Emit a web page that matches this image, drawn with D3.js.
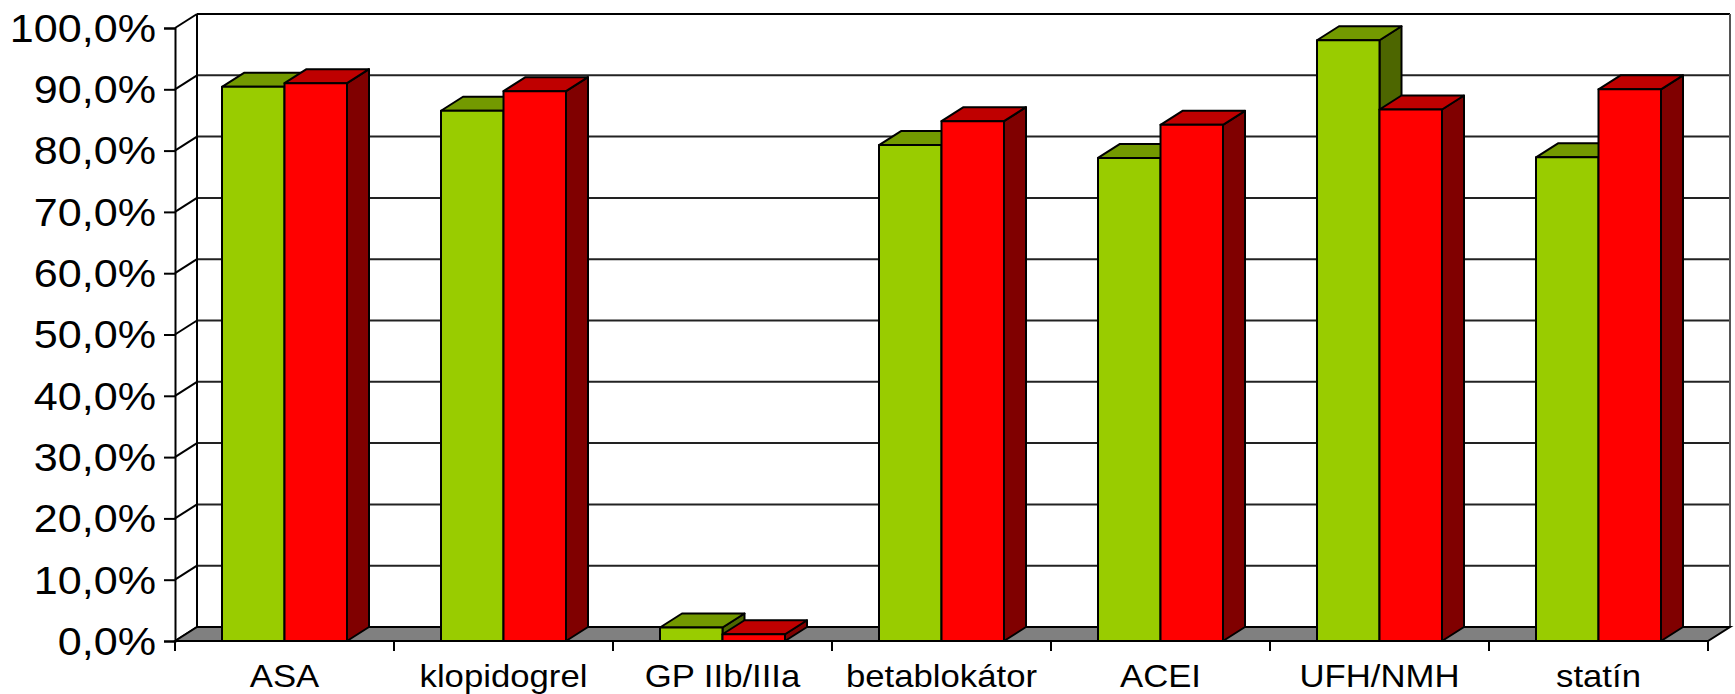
<!DOCTYPE html>
<html>
<head>
<meta charset="utf-8">
<script src="https://cdn.jsdelivr.net/npm/d3@7"></script>
<style>
  html, body { margin: 0; padding: 0; background: #fff; }
  svg { display: block; }
  text { font-family: "Liberation Sans", Arial, sans-serif; fill: #000; }
</style>
</head>
<body>
<svg id="chart" width="1735" height="694"></svg>
<script>
'use strict';

var categories = ['ASA', 'klopidogrel', 'GP IIb/IIIa', 'betablokátor', 'ACEI', 'UFH/NMH', 'statín'];
var greenValues = [90.4, 86.5, 2.2, 80.9, 78.8, 98.0, 78.9];
var redValues = [91.0, 89.7, 1.1, 84.8, 84.2, 86.7, 90.0];
var yTicks = [0, 10, 20, 30, 40, 50, 60, 70, 80, 90, 100];

var greenColors = { front: '#99cc00', top: '#739900', side: '#4d6600' };
var redColors = { front: '#ff0000', top: '#bf0000', side: '#800000' };

var plotLeft = 175, plotRight = 1708, plotTop = 28, plotBottom = 641;
var depthX = 22, depthY = 14;
var barWidth = 62.5;
// the labels in the picture are stretched sideways
var textStretch = 1.12;

var svg = d3.select('#chart');

var x = d3.scaleBand().domain(categories).range([plotLeft, plotRight]);
var y = d3.scaleLinear().domain([0, 100]).range([plotBottom, plotTop]);
var series = d3.scaleBand().domain(['green', 'red']).range([-barWidth, barWidth]);

function poly(points) {
  return points.map(function(p) { return p.join(','); }).join(' ');
}

// walls: gridlines on the back wall, running round the side wall
var walls = svg.append('g');

walls.selectAll('line.grid')
  .data(yTicks.slice(1))
  .enter().append('line')
  .attr('class', 'grid')
  .attr('x1', plotLeft + depthX).attr('x2', plotRight + depthX)
  .attr('y1', function(d) { return y(d) - depthY; })
  .attr('y2', function(d) { return y(d) - depthY; })
  .attr('stroke', function(d) { return d === 100 ? '#000' : '#222'; })
  .attr('stroke-width', 2);

walls.selectAll('line.side')
  .data(yTicks)
  .enter().append('line')
  .attr('class', 'side')
  .attr('x1', plotLeft).attr('x2', plotLeft + depthX)
  .attr('y1', function(d) { return y(d); })
  .attr('y2', function(d) { return y(d) - depthY; })
  .attr('stroke', '#000').attr('stroke-width', 2);

walls.append('line')
  .attr('x1', plotLeft + depthX).attr('x2', plotLeft + depthX)
  .attr('y1', y(100) - depthY).attr('y2', y(0) - depthY)
  .attr('stroke', '#000').attr('stroke-width', 2);

walls.append('line')
  .attr('x1', plotRight + depthX).attr('x2', plotRight + depthX)
  .attr('y1', y(100) - depthY).attr('y2', y(0) - depthY)
  .attr('stroke', '#555').attr('stroke-width', 2);

// floor
walls.append('polygon')
  .attr('points', poly([
    [plotLeft, y(0)], [plotLeft + depthX, y(0) - depthY],
    [plotRight + depthX, y(0) - depthY], [plotRight, y(0)]
  ]))
  .attr('fill', '#808080').attr('stroke', '#000').attr('stroke-width', 2);

// axes
var yAxis = d3.axisLeft(y)
  .tickValues(yTicks)
  .tickSize(11)
  .tickPadding(8)
  .tickFormat(function(d) { return d3.format('.1f')(d).replace('.', ',') + '%'; });

var yGroup = svg.append('g').attr('transform', 'translate(' + plotLeft + ',0)').call(yAxis);
yGroup.select('.domain').attr('stroke', '#000').attr('stroke-width', 2);
yGroup.selectAll('.tick line').attr('stroke', '#000').attr('stroke-width', 2);
yGroup.selectAll('text')
  .attr('font-size', 38.5)
  .attr('font-family', '"Liberation Sans", Arial, sans-serif')
  .attr('x', -19 / textStretch)
  .attr('y', 1)
  .attr('transform', 'scale(' + textStretch + ',1)');

var boundaries = d3.range(categories.length + 1).map(function(i) { return plotLeft + i * x.step(); });
svg.append('g').selectAll('line')
  .data(boundaries)
  .enter().append('line')
  .attr('x1', function(d) { return d; }).attr('x2', function(d) { return d; })
  .attr('y1', y(0)).attr('y2', y(0) + 10)
  .attr('stroke', '#000').attr('stroke-width', 2);

svg.append('g').selectAll('text')
  .data(categories)
  .enter().append('text')
  .attr('transform', function(d) {
    return 'translate(' + (x(d) + x.bandwidth() / 2) + ',687) scale(' + textStretch + ',1)';
  })
  .attr('text-anchor', 'middle')
  .attr('font-size', 31)
  .text(function(d) { return d; });

// bars, green first so the red one overlaps its side face
function drawBars(name, values, colors) {
  var bars = svg.append('g').selectAll('g')
    .data(categories.map(function(c, i) { return { category: c, value: values[i] }; }))
    .enter().append('g')
    .attr('stroke', '#000').attr('stroke-width', 2).attr('stroke-linejoin', 'round');

  function x0(d) { return x(d.category) + x.bandwidth() / 2 + series(name); }

  bars.append('polygon')
    .attr('fill', colors.side)
    .attr('points', function(d) {
      var a = x0(d) + barWidth;
      return poly([[a, y(d.value)], [a + depthX, y(d.value) - depthY], [a + depthX, y(0) - depthY], [a, y(0)]]);
    });

  bars.append('polygon')
    .attr('fill', colors.top)
    .attr('points', function(d) {
      var a = x0(d), t = y(d.value);
      return poly([[a, t], [a + depthX, t - depthY], [a + barWidth + depthX, t - depthY], [a + barWidth, t]]);
    });

  bars.append('rect')
    .attr('fill', colors.front)
    .attr('x', x0)
    .attr('y', function(d) { return y(d.value); })
    .attr('width', barWidth)
    .attr('height', function(d) { return y(0) - y(d.value); });
}

drawBars('green', greenValues, greenColors);
drawBars('red', redValues, redColors);

// front baseline on top of the floor
svg.append('line')
  .attr('x1', plotLeft).attr('x2', plotRight)
  .attr('y1', y(0)).attr('y2', y(0))
  .attr('stroke', '#000').attr('stroke-width', 2);
</script>
</body>
</html>
